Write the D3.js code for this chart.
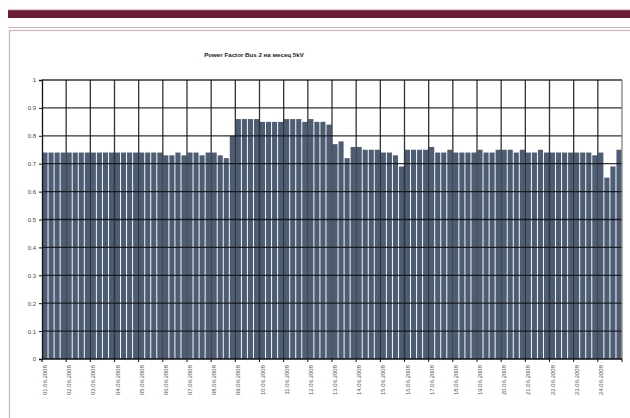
<!DOCTYPE html>
<html>
<head>
<meta charset="utf-8">
<script src="https://cdn.jsdelivr.net/npm/d3@7"></script>
<style>
  body { margin: 0; background: #fff; }
  svg { display: block; }
</style>
</head>
<body>
<svg id="chart" width="630" height="418"></svg>
<script>
// Chart text
const title = "Power Factor Bus 2 на месец 5kV";

// One tick label per day, four readings per day
const dayLabels = [
  "01.06.2008","02.06.2008","03.06.2008","04.06.2008","05.06.2008","06.06.2008",
  "07.06.2008","08.06.2008","09.06.2008","10.06.2008","11.06.2008","12.06.2008",
  "13.06.2008","14.06.2008","15.06.2008","16.06.2008","17.06.2008","18.06.2008",
  "19.06.2008","20.06.2008","21.06.2008","22.06.2008","23.06.2008","24.06.2008"
];
const readingTimes = ["00:00","06:00","12:00","18:00"];

// Power factor per reading
const powerFactor = [
  0.74,0.74,0.74,0.74,0.74,0.74,0.74,0.74,0.74,0.74,
  0.74,0.74,0.74,0.74,0.74,0.74,0.74,0.74,0.74,0.74,
  0.73,0.73,0.74,0.73,0.74,0.74,0.73,0.74,0.74,0.73,0.72,
  0.80,
  0.86,0.86,0.86,0.86,0.85,0.85,0.85,0.85,0.86,0.86,0.86,0.85,0.86,0.85,0.85,0.84,
  0.77,0.78,0.72,0.76,0.76,0.75,0.75,0.75,0.74,0.74,0.73,0.69,0.75,0.75,0.75,0.75,0.76,
  0.74,0.74,0.75,0.74,0.74,0.74,0.74,0.75,0.74,0.74,0.75,0.75,0.75,0.74,
  0.75,0.74,0.74,0.75,0.74,0.74,0.74,0.74,0.74,0.74,0.74,0.74,0.73,0.74,
  0.65,0.69,0.75
];

// Value axis ticks
const yTicks = [0,0.1,0.2,0.3,0.4,0.5,0.6,0.7,0.8,0.9,1];

// Category list: day + reading time
const categories = [];
dayLabels.forEach(d => readingTimes.forEach(t => categories.push(d + " " + t)));

const svg = d3.select("#chart");

// Page decoration: maroon header band and the frame around the chart
svg.append("rect").attr("x", 8).attr("y", 10).attr("width", 622).attr("height", 8)
  .attr("fill", "#6b1c37");
svg.append("rect").attr("x", 8).attr("y", 9.5).attr("width", 622).attr("height", 1.5)
  .attr("fill", "#9a5a72").attr("opacity", 0.6);
svg.append("line").attr("x1", 8).attr("x2", 630).attr("y1", 27.5).attr("y2", 27.5)
  .attr("stroke", "#d7b3c2").attr("stroke-width", 1);
svg.append("rect").attr("x", 9.5).attr("y", 30.5).attr("width", 640).attr("height", 400)
  .attr("fill", "#fff").attr("stroke", "#cdb4c0").attr("stroke-width", 1.2);

// Plot geometry
const plotLeft = 42, plotRight = 622, plotTop = 80, plotBottom = 359;

const x = d3.scaleBand().domain(categories).range([plotLeft, plotRight])
  .paddingInner(0.16).paddingOuter(0.08);
const xDay = d3.scaleBand().domain(dayLabels).range([plotLeft, plotRight]);
const y = d3.scaleLinear().domain([0, 1]).range([plotBottom, plotTop]);

// Title
svg.append("text")
  .attr("x", 254).attr("y", 57)
  .attr("text-anchor", "middle")
  .attr("font-family", "Liberation Sans, Arial, sans-serif")
  .attr("font-weight", "bold")
  .attr("font-size", 6.2)
  .attr("fill", "#222")
  .text(title);

// Bars
svg.append("g").selectAll("rect")
  .data(powerFactor)
  .join("rect")
  .attr("x", (d, i) => x(categories[i]))
  .attr("y", d => y(d))
  .attr("width", x.bandwidth())
  .attr("height", d => y(0) - y(d))
  .attr("fill", "#4d5d73");

// Gridlines, drawn over the bars
const grid = svg.append("g");
grid.selectAll("line.h")
  .data(yTicks.filter(v => v > 0))
  .join("line")
  .attr("class", "h")
  .attr("x1", plotLeft).attr("x2", plotRight)
  .attr("y1", d => y(d)).attr("y2", d => y(d))
  .attr("stroke", "#111").attr("stroke-width", 1.3).attr("opacity", 0.85);
grid.selectAll("line.v")
  .data(dayLabels.slice(1))
  .join("line")
  .attr("class", "v")
  .attr("x1", d => xDay(d)).attr("x2", d => xDay(d))
  .attr("y1", plotTop).attr("y2", plotBottom)
  .attr("stroke", "#111").attr("stroke-width", 1.3).attr("opacity", 0.85);

// Right plot border
svg.append("line")
  .attr("x1", plotRight).attr("x2", plotRight).attr("y1", plotTop).attr("y2", plotBottom)
  .attr("stroke", "#777").attr("stroke-width", 1.2);

// Value axis
const yAxis = svg.append("g")
  .attr("transform", `translate(${plotLeft},0)`)
  .call(d3.axisLeft(y).tickValues(yTicks).tickSize(3).tickPadding(3)
    .tickFormat(d => String(+d.toFixed(1))));
yAxis.select(".domain").attr("stroke", "#111").attr("stroke-width", 1.3);
yAxis.selectAll(".tick line").attr("stroke", "#111");
yAxis.selectAll("text")
  .attr("font-family", "Liberation Sans, Arial, sans-serif")
  .attr("font-size", 6)
  .attr("fill", "#444");

// Category axis: ticks at day boundaries, one label per day
const xAxisG = svg.append("g").attr("transform", `translate(0,${plotBottom})`);
xAxisG.append("line")
  .attr("x1", plotLeft).attr("x2", plotRight).attr("y1", 0).attr("y2", 0)
  .attr("stroke", "#111").attr("stroke-width", 1.3);
xAxisG.selectAll("line.t")
  .data(dayLabels.concat(["end"]))
  .join("line")
  .attr("class", "t")
  .attr("x1", (d, i) => i < dayLabels.length ? xDay(d) : plotRight)
  .attr("x2", (d, i) => i < dayLabels.length ? xDay(d) : plotRight)
  .attr("y1", 0).attr("y2", 3)
  .attr("stroke", "#111");
xAxisG.selectAll("text")
  .data(dayLabels)
  .join("text")
  .attr("transform", (d, i) => {
    const cx = x(categories[i * readingTimes.length]) + x.bandwidth() / 2;
    return `translate(${cx + 2},6) rotate(-90)`;
  })
  .attr("text-anchor", "end")
  .attr("font-family", "Liberation Sans, Arial, sans-serif")
  .attr("font-size", 6)
  .attr("fill", "#555")
  .text(d => d);
</script>
</body>
</html>
